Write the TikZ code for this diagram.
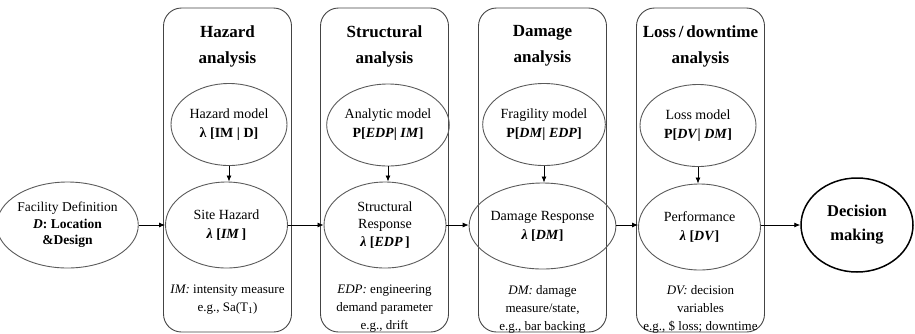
\documentclass[tikz,border=0pt]{standalone}
\usepackage{fontspec}
\setmainfont{Liberation Serif}
\usetikzlibrary{shapes.geometric,arrows.meta}
\definecolor{ellgray}{HTML}{5A5A5A}
\definecolor{colgray}{HTML}{444444}
\begin{document}
\begin{tikzpicture}[x=1pt,y=-1pt,
  col/.style={draw=colgray, line width=0.9pt, rounded corners=18pt, minimum width=128pt, minimum height=324pt, inner sep=0pt},
  ell/.style={draw=ellgray, line width=0.9pt, ellipse, inner sep=0pt, align=center, font=\fontsize{14}{19}\selectfont},
  upper/.style={ell, minimum width=116pt, minimum height=82pt},
  lower/.style={ell, minimum width=122pt, minimum height=86pt},
  title/.style={align=center, inner sep=0pt, font=\fontsize{17}{26}\selectfont\bfseries},
  note/.style={align=center, anchor=north, inner sep=0pt, font=\fontsize{13}{18}\selectfont},
  arr/.style={-{Latex[length=6pt,width=5pt]}, line width=0.8pt}
]
\useasboundingbox (0,0) rectangle (915,333);

% columns
\node[col] (hcol) at (227.5,170) {};
\node[col] (scol) at (384.5,170) {};
\node[col] (dcol) at (542.5,170) {};
\node[col] (lcol) at (700.5,170) {};

% titles
\node[title] (ht) at (227.5,46) {Hazard\\analysis};
\node[title] (st) at (384.5,46) {Structural\\analysis};
\node[title] (dt) at (542.5,46) {Damage\\analysis};
\node[title] (lt) at (700.5,46) {Loss\,/\,downtime\\analysis};

% upper ellipses
\node[upper] (hmod) at (229,124.5) {Hazard model\\\textbf{λ [IM | D]}};
\node[upper] (amod) at (388,125) {Analytic model\\\textbf{P[\textit{EDP}| \textit{IM}]}};
\node[upper] (fmod) at (544,124.5) {Fragility model\\\textbf{P[\textit{DM}| \textit{EDP}]}};
\node[upper] (lmod) at (698,125.5) {Loss model\\\textbf{P[\textit{DV}| \textit{DM}]}};

% lower ellipses
\node[lower] (site) at (226.5,225) {Site Hazard\\\textbf{\textit{λ} [\textit{IM}\,]}};
\node[lower, font=\fontsize{14}{17.5}\selectfont] (sresp) at (385,225) {Structural\\Response\\\textbf{\textit{λ} [\textit{EDP}\,]}};
\node[lower] (dresp) at (542.5,226) {Damage Response\\\textbf{\textit{λ} [\textit{DM}]}};
\node[lower] (perf) at (699.5,227) {Performance\\\textbf{\textit{λ} [\textit{DV}]}};

% notes
\node[note] (hn) at (227.5,285) {\textit{IM:} intensity measure\\e.g., Sa(T\textsubscript{1})};
\node[note] (sn) at (384.5,285) {\textit{EDP:} engineering\\demand parameter\\e.g., drift};
\node[note] (dn) at (542.5,285) {\textit{DM:} damage\\measure/state,\\e.g., bar backing};
\node[note] (ln) at (700.5,285) {\textit{DV:} decision\\variables\\e.g., \$ loss; downtime};

% end nodes
\node[ell, minimum width=121pt, minimum height=86pt, font=\fontsize{13.5}{16.5}\selectfont] (fac) at (67.5,225) {Facility Definition\\\textbf{\textit{D}: Location}\\\textbf{\&Design}};
\node[ell, draw=black, line width=1.5pt, minimum width=112pt, minimum height=94pt, font=\fontsize{16.5}{24}\selectfont\bfseries] (dec) at (857,225) {Decision\\making};

% connectors
\draw[arr] (fac.east) -- (site.west);
\draw[arr] (site.east) -- (sresp.west);
\draw[arr] (sresp.east) -- (dresp.west |- sresp.east);
\draw[arr] (dresp.east |- sresp.east) -- (perf.west |- sresp.east);
\draw[arr] (perf.east |- sresp.east) -- (dec.west);
\draw[arr] (hmod.south) -- (site.north -| hmod.south);
\draw[arr] (amod.south) -- (sresp.north -| amod.south);
\draw[arr] (fmod.south) -- (dresp.north -| fmod.south);
\draw[arr] (lmod.south) -- (perf.north -| lmod.south);
\end{tikzpicture}
\end{document}
